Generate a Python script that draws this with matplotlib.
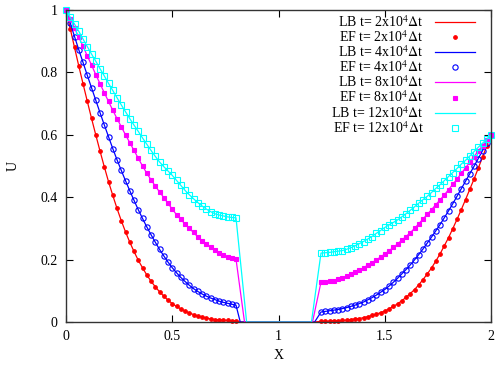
# U(x) profiles: LB lines and EF points, 4 times
import matplotlib
matplotlib.use("Agg")
import matplotlib.pyplot as plt

plt.rcParams['font.family'] = ['Liberation Serif', 'DejaVu Serif']
plt.rcParams['mathtext.fontset'] = 'stix'

# x grid of the two sides (step 0.02)
x_left = [0.00, 0.02, 0.04, 0.06, 0.08, 0.10, 0.12, 0.14, 0.16, 0.18,
          0.20, 0.22, 0.24, 0.26, 0.28, 0.30, 0.32, 0.34, 0.36, 0.38,
          0.40, 0.42, 0.44, 0.46, 0.48, 0.50, 0.52, 0.54, 0.56, 0.58,
          0.60, 0.62, 0.64, 0.66, 0.68, 0.70, 0.72, 0.74, 0.76, 0.78, 0.80]
x_right = [1.20, 1.22, 1.24, 1.26, 1.28, 1.30, 1.32, 1.34, 1.36, 1.38,
           1.40, 1.42, 1.44, 1.46, 1.48, 1.50, 1.52, 1.54, 1.56, 1.58,
           1.60, 1.62, 1.64, 1.66, 1.68, 1.70, 1.72, 1.74, 1.76, 1.78,
           1.80, 1.82, 1.84, 1.86, 1.88, 1.90, 1.92, 1.94, 1.96, 1.98, 2.00]

# t = 2x10^4
u2_left = [1.000, 0.940, 0.880, 0.821, 0.764, 0.708, 0.653, 0.600, 0.548, 0.498,
           0.450, 0.406, 0.364, 0.325, 0.289, 0.256, 0.226, 0.198, 0.174, 0.151,
           0.131, 0.113, 0.097, 0.083, 0.070, 0.059, 0.050, 0.042, 0.035, 0.029,
           0.024, 0.019, 0.016, 0.013, 0.010, 0.008, 0.007, 0.006, 0.005, 0.004, 0.004]
u2_right = [0.002, 0.002, 0.003, 0.004, 0.004, 0.005, 0.006, 0.008, 0.010, 0.011,
            0.014, 0.017, 0.021, 0.025, 0.030, 0.035, 0.042, 0.050, 0.058, 0.068,
            0.079, 0.091, 0.104, 0.119, 0.136, 0.154, 0.173, 0.195, 0.218, 0.244,
            0.270, 0.299, 0.329, 0.360, 0.392, 0.425, 0.458, 0.493, 0.528, 0.564, 0.600]

# t = 4x10^4
u4_left = [1.000, 0.958, 0.915, 0.873, 0.832, 0.791, 0.751, 0.711, 0.671, 0.632,
           0.594, 0.556, 0.520, 0.486, 0.453, 0.421, 0.390, 0.360, 0.332, 0.305,
           0.280, 0.256, 0.233, 0.212, 0.192, 0.174, 0.158, 0.143, 0.130, 0.118,
           0.107, 0.098, 0.090, 0.083, 0.077, 0.072, 0.067, 0.063, 0.060, 0.057, 0.054]
u4_right = [0.032, 0.034, 0.036, 0.038, 0.040, 0.043, 0.046, 0.050, 0.054, 0.059,
            0.064, 0.071, 0.078, 0.086, 0.095, 0.104, 0.115, 0.127, 0.140, 0.154,
            0.168, 0.183, 0.199, 0.216, 0.234, 0.253, 0.272, 0.292, 0.312, 0.334,
            0.356, 0.379, 0.403, 0.427, 0.451, 0.475, 0.499, 0.524, 0.549, 0.575, 0.600]

# t = 8x10^4
u8_left = [1.000, 0.971, 0.942, 0.913, 0.884, 0.853, 0.824, 0.793, 0.764, 0.735,
           0.707, 0.679, 0.652, 0.626, 0.600, 0.575, 0.550, 0.525, 0.500, 0.477,
           0.456, 0.436, 0.417, 0.399, 0.380, 0.362, 0.344, 0.329, 0.314, 0.300,
           0.287, 0.273, 0.261, 0.250, 0.240, 0.230, 0.221, 0.214, 0.208, 0.204, 0.202]
u8_right = [0.128, 0.129, 0.131, 0.133, 0.137, 0.141, 0.147, 0.153, 0.159, 0.166,
            0.174, 0.182, 0.190, 0.199, 0.208, 0.218, 0.228, 0.239, 0.250, 0.262,
            0.274, 0.286, 0.300, 0.315, 0.330, 0.345, 0.360, 0.376, 0.391, 0.407,
            0.424, 0.441, 0.458, 0.476, 0.494, 0.512, 0.530, 0.548, 0.565, 0.583, 0.600]

# t = 12x10^4
u12_left = [1.000, 0.977, 0.955, 0.932, 0.907, 0.883, 0.859, 0.836, 0.812, 0.789,
            0.765, 0.742, 0.719, 0.696, 0.674, 0.652, 0.631, 0.611, 0.590, 0.570,
            0.550, 0.531, 0.513, 0.498, 0.484, 0.470, 0.454, 0.438, 0.422, 0.408,
            0.395, 0.383, 0.372, 0.362, 0.354, 0.347, 0.343, 0.340, 0.337, 0.335, 0.334]
u12_right = [0.221, 0.222, 0.223, 0.225, 0.227, 0.229, 0.233, 0.238, 0.244, 0.251,
             0.258, 0.266, 0.274, 0.284, 0.293, 0.303, 0.311, 0.319, 0.327, 0.337,
             0.347, 0.358, 0.369, 0.381, 0.392, 0.403, 0.415, 0.428, 0.440, 0.453,
             0.466, 0.479, 0.492, 0.506, 0.518, 0.532, 0.546, 0.560, 0.573, 0.586, 0.600]

# where each LB line reaches zero inside the gap
gap_start = [0.82, 0.82, 0.84, 0.85]
gap_end = [1.17, 1.17, 1.16, 1.155]

times = ['2', '4', '8', '12']
colors = ['red', 'blue', 'magenta', 'cyan']
markers = ['o', 'o', 's', 's']
msizes = [2.6, 3.8, 3.0, 4.2]
filled = [True, False, True, False]
lefts = [u2_left, u4_left, u8_left, u12_left]
rights = [u2_right, u4_right, u8_right, u12_right]

fig = plt.figure(figsize=(4.97, 3.73), dpi=100)
ax = fig.add_axes([66/497, 1-322/373, 425/497, 312/373])

for i in range(4):
    c = colors[i]
    xl = x_left + [gap_start[i], gap_end[i]] + x_right
    ul = lefts[i] + [0.0, 0.0] + rights[i]
    ax.plot(xl, ul, '-', color=c, lw=0.9, clip_on=False,
            label=r'LB t= %sx10$^{4}$$\Delta$t' % times[i])
    xe = x_left + x_right
    ue = lefts[i] + rights[i]
    ax.plot(xe, ue, linestyle='none', marker=markers[i], ms=msizes[i],
            mec=c, mew=0.8, mfc=c if filled[i] else 'none', clip_on=False,
            label=r'EF t= %sx10$^{4}$$\Delta$t' % times[i])

ax.set_xlim(0, 2)
ax.set_ylim(0, 1)
ax.set_xticks([0, 0.5, 1, 1.5, 2])
ax.set_xticklabels(['0', '0.5', '1', '1.5', '2'])
ax.set_yticks([0, 0.2, 0.4, 0.6, 0.8, 1])
ax.set_yticklabels(['0', '0.2', '0.4', '0.6', '0.8', '1'])
ax.tick_params(direction='in', length=5, width=0.8, top=True, right=True,
               labelsize=10, pad=6, colors='black')
for s in ax.spines.values():
    s.set_linewidth(1.0)
    s.set_color('#333333')

ax.set_xlabel('X', fontsize=10, labelpad=4)
ax.set_ylabel('U', fontsize=10, labelpad=15)

ax.legend(loc='upper right', bbox_to_anchor=(0.985, 1.018), frameon=False,
          markerfirst=False, fontsize=10, handlelength=2.9,
          handletextpad=0.8, labelspacing=-0.05, borderpad=0.2)

fig.savefig('out.png', dpi=100)
